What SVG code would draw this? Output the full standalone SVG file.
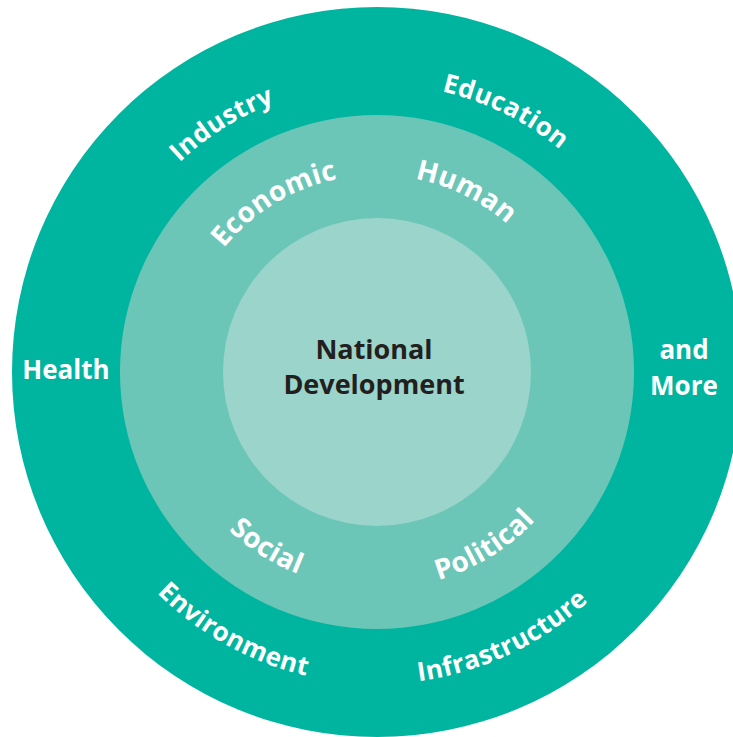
<svg xmlns="http://www.w3.org/2000/svg" width="733" height="737" viewBox="0 0 733 737">
  <style>
    .lbl { font-family: "Open Sans", "Noto Sans", "Liberation Sans", sans-serif; font-weight: 700; font-size: 26px; fill: #FFFFFF; }
    .arc { letter-spacing: 0.4px; }
    .in { font-size: 28px; letter-spacing: 0.3px; }
    .ctr { font-family: "Open Sans", "Noto Sans", "Liberation Sans", sans-serif; font-weight: 700; font-size: 27px; fill: #231F20; }
  </style>
  <defs>
    <path id="topOuter" d="M 89 372 A 288 288 0 0 1 665 372"/>
    <path id="botOuter" d="M 65 372 A 312 312 0 0 0 689 372"/>
    <path id="topInner" d="M 180 372 A 197 197 0 0 1 574 372"/>
    <path id="botInner" d="M 160 372 A 217 217 0 0 0 594 372"/>
  </defs>
  <rect width="733" height="737" fill="#FFFFFF"/>
  <g id="outer-ring">
    <circle cx="377" cy="372" r="365" fill="#00B5A0"/>
    <text class="lbl arc"><textPath href="#topOuter" startOffset="32.2%" text-anchor="middle">Industry</textPath></text>
    <text class="lbl arc"><textPath href="#topOuter" startOffset="64.6%" text-anchor="middle">Education</textPath></text>
    <text class="lbl" x="66" y="379" text-anchor="middle">Health</text>
    <text class="lbl" x="684" y="359" text-anchor="middle">and</text>
    <text class="lbl" x="684" y="395" text-anchor="middle">More</text>
    <text class="lbl arc"><textPath href="#botOuter" startOffset="33.9%" text-anchor="middle">Environment</textPath></text>
    <text class="lbl arc"><textPath href="#botOuter" startOffset="64.0%" text-anchor="middle">Infrastructure</textPath></text>
  </g>
  <g id="middle-ring">
    <circle cx="377" cy="372" r="257" fill="#6CC6B8"/>
    <text class="lbl in"><textPath href="#topInner" startOffset="32.6%" text-anchor="middle">Economic</textPath></text>
    <text class="lbl in"><textPath href="#topInner" startOffset="64.6%" text-anchor="middle">Human</textPath></text>
    <text class="lbl in"><textPath href="#botInner" startOffset="32.1%" text-anchor="middle">Social</textPath></text>
    <text class="lbl in"><textPath href="#botInner" startOffset="67.6%" text-anchor="middle">Political</textPath></text>
  </g>
  <g id="national-development">
    <circle cx="377" cy="372" r="154" fill="#9AD4CA"/>
    <text class="ctr" x="374" y="359" text-anchor="middle">National</text>
    <text class="ctr" x="374" y="394" text-anchor="middle">Development</text>
  </g>
  <g id="connectors"/>
</svg>
